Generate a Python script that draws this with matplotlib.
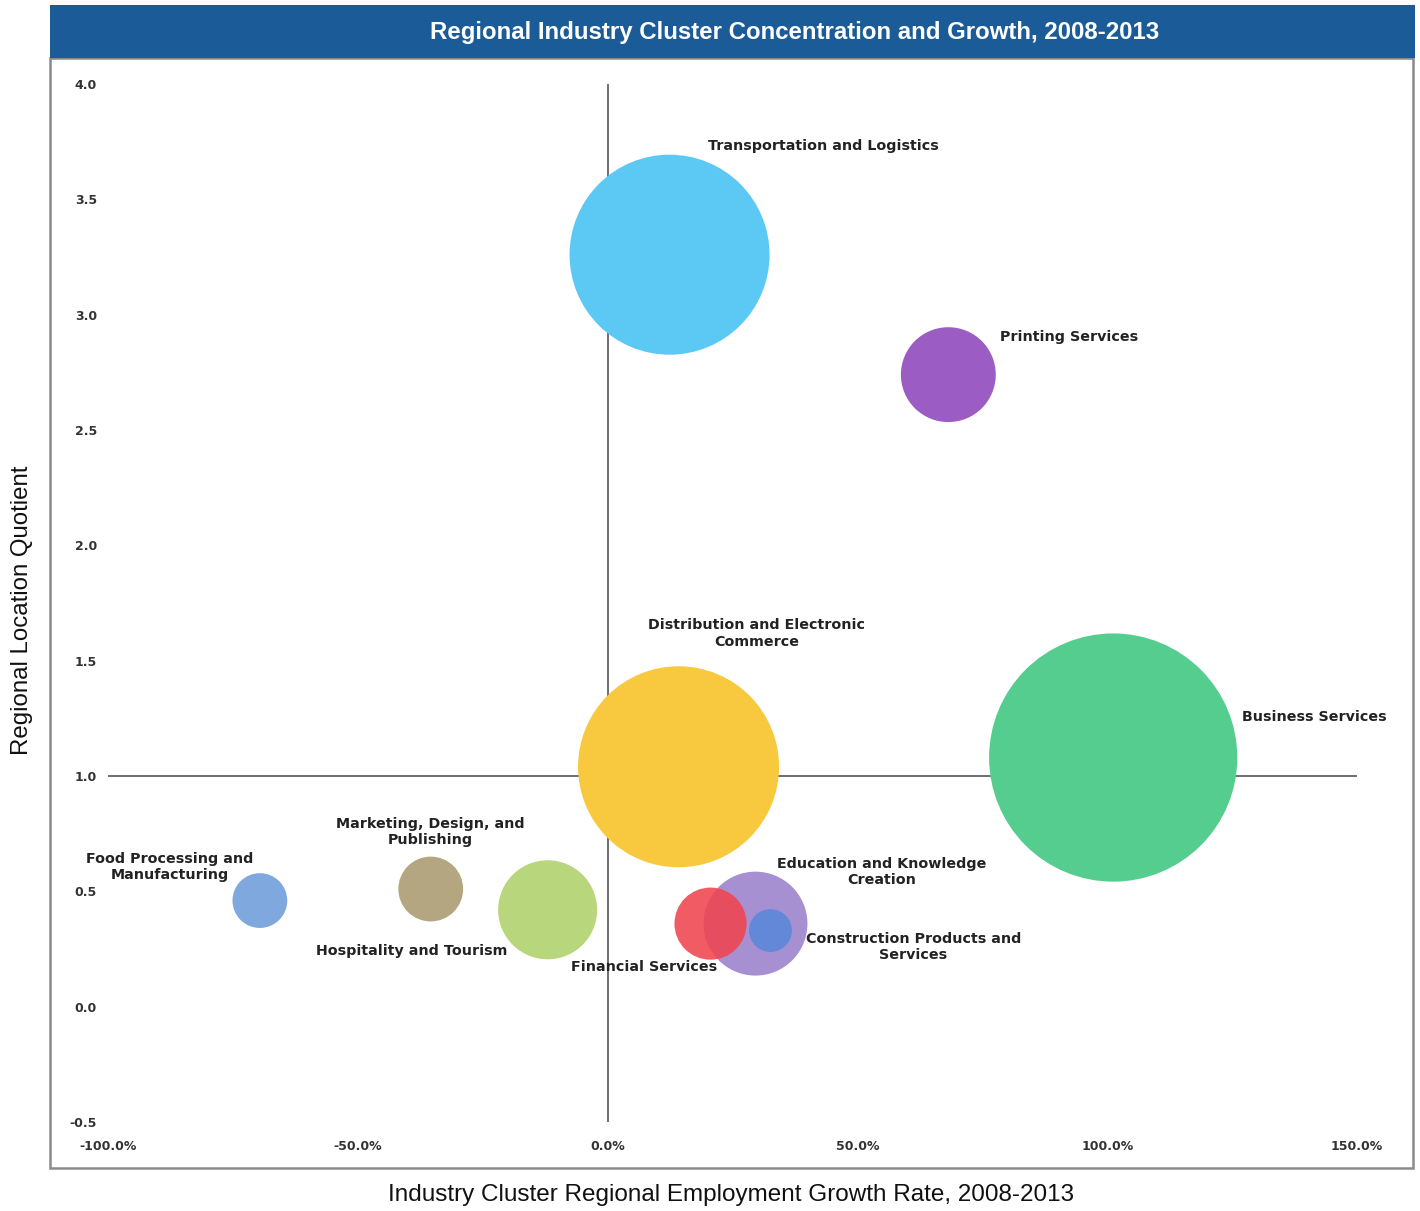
import matplotlib.pyplot as plt
from matplotlib.patches import Rectangle
from matplotlib.ticker import FuncFormatter
import numpy as np

# cluster data: growth 2008-2013 (%), location quotient, relative cluster size
clusters = [
    'Transportation and Logistics',
    'Printing Services',
    'Distribution and Electronic\nCommerce',
    'Business Services',
    'Food Processing and\nManufacturing',
    'Marketing, Design, and\nPublishing',
    'Hospitality and Tourism',
    'Education and Knowledge\nCreation',
    'Financial Services',
    'Construction Products and\nServices',
]
growth = [12.4, 68.2, 14.2, 101.2, -69.6, -35.4, -12.0, 29.6, 20.6, 32.6]
location_quotient = [3.26, 2.74, 1.04, 1.08, 0.46, 0.51, 0.42, 0.36, 0.36, 0.33]
cluster_size = [100, 22.5, 101, 154, 7.5, 10.5, 24.5, 27, 13, 4.6]

colors = ['#5cc8f4', '#9b5cc4', '#f8c83e', '#55cd8f', '#7ea8de',
          '#b3a680', '#b8d67c', '#a690d2', '#f0454f', '#5c88d8']
alphas = [1, 1, 1, 1, 1, 1, 1, 1, 0.88, 0.9]

# label offsets (points) from bubble centre
label_offsets = [(111, 78), (87, 27), (56, 96), (145, 29), (-65, 24),
                 (0, 41), (-98, -30), (91, 37), (-48, -31), (103, -12)]

plt.rcParams['font.family'] = ['Liberation Sans', 'DejaVu Sans']

fig = plt.figure(figsize=(14.2, 12.11), dpi=100)
W, H = 1420, 1211

# chart frame and title banner
fig.patches.append(Rectangle((50 / W, 1 - 1168 / H), 1363 / W, 1110 / H,
                             transform=fig.transFigure, fill=False,
                             edgecolor='#8a8a8a', lw=1.8, zorder=0))
fig.patches.append(Rectangle((50 / W, 1 - 58 / H), 1365 / W, 53 / H,
                             transform=fig.transFigure, facecolor='#1b5c98',
                             edgecolor='none', zorder=1))
fig.text(795 / W, 1 - 33 / H,
         'Regional Industry Cluster Concentration and Growth, 2008-2013',
         ha='center', va='center', color='white', fontsize=17.3, fontweight='bold')

ax = fig.add_axes([108 / W, 1 - 1122 / H, 1249 / W, 1038 / H])
ax.set_xlim(-100, 150)
ax.set_ylim(-0.5, 4.0)
for s in ax.spines.values():
    s.set_visible(False)
ax.set_facecolor('none')

ax.axvline(0, color='#555555', lw=1.2, zorder=1)
ax.axhline(1.0, color='#555555', lw=1.2, zorder=1)

scale = 207.4
for i in range(len(clusters)):
    ax.scatter(growth[i], location_quotient[i], s=cluster_size[i] * scale,
               color=colors[i], alpha=alphas[i], edgecolors='none', zorder=2 + i)
    ax.annotate(clusters[i], (growth[i], location_quotient[i]),
                xytext=label_offsets[i], textcoords='offset points',
                ha='center', va='center', fontsize=10.3, fontweight='bold',
                family='DejaVu Sans', color='#222222', linespacing=1.2,
                zorder=20)

ax.set_xticks(np.arange(-100, 151, 50))
ax.set_yticks(np.arange(-0.5, 4.01, 0.5))
ax.xaxis.set_major_formatter(FuncFormatter(lambda v, p: f'{v:.1f}%'))
ax.yaxis.set_major_formatter(FuncFormatter(lambda v, p: f'{v:.1f}'))
ax.tick_params(length=0, labelsize=9, labelcolor='#333333')
ax.tick_params(axis='x', pad=13)
ax.tick_params(axis='y', pad=8)
for lab in ax.get_xticklabels() + ax.get_yticklabels():
    lab.set_fontweight('bold')
    lab.set_family('DejaVu Sans')

fig.text(22 / W, 1 - 610 / H, 'Regional Location Quotient', rotation=90,
         ha='center', va='center', fontsize=17.3, color='#111111')
fig.text(731 / W, 1 - 1195 / H,
         'Industry Cluster Regional Employment Growth Rate, 2008-2013',
         ha='center', va='center', fontsize=17.5, color='#111111')

fig.savefig('out.png', dpi=100)
